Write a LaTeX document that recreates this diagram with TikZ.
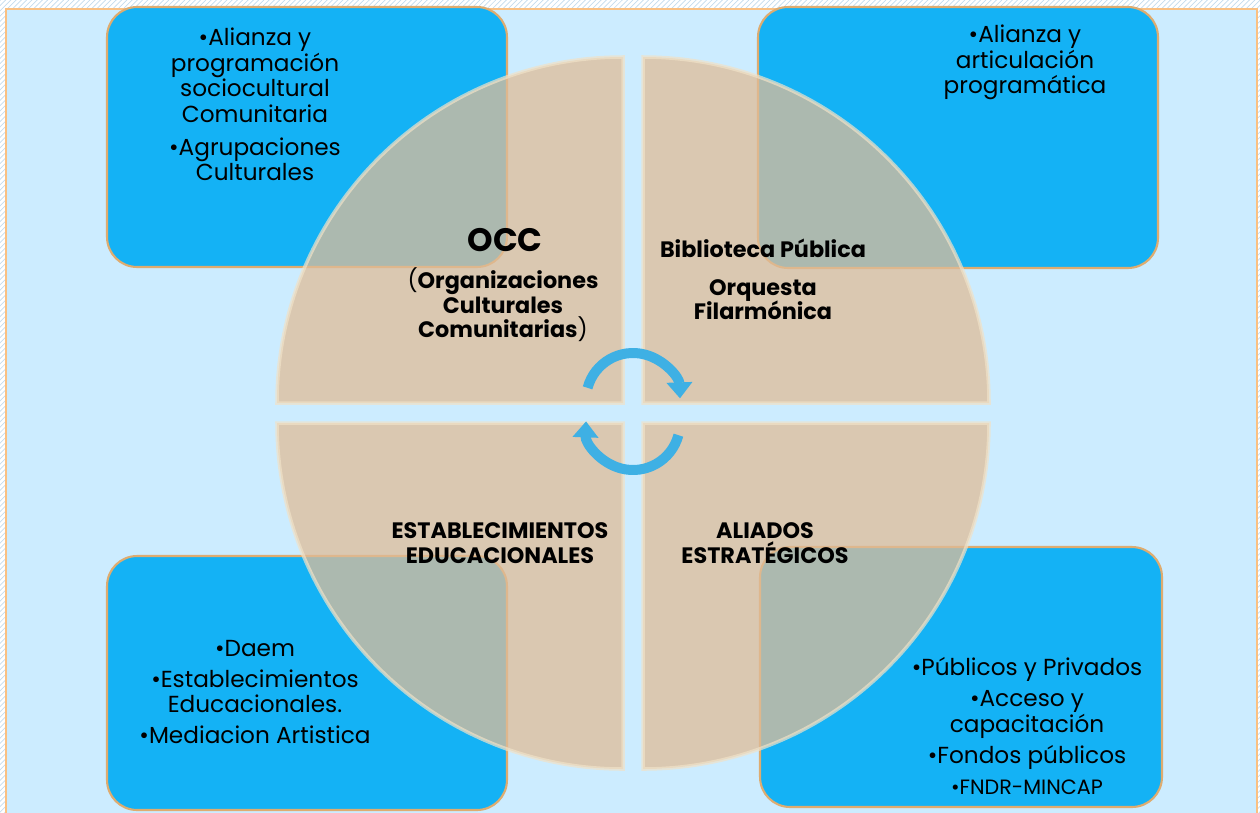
\documentclass[tikz,border=0pt]{standalone}
\usepackage{fontspec}
\setmainfont{Poppins}
\usepackage{xcolor}
\usetikzlibrary{patterns}
\usetikzlibrary{arrows.meta}
\definecolor{panelblue}{RGB}{204,236,255}
\definecolor{hatchblue}{RGB}{196,220,238}
\definecolor{frameorange}{RGB}{250,192,130}
\definecolor{boxblue}{RGB}{20,178,245}
\definecolor{boxedge}{RGB}{222,172,112}
\definecolor{quadtan}{RGB}{223,188,152}
\definecolor{quadedge}{RGB}{240,226,200}
\definecolor{cyclearrow}{RGB}{62,176,228}

\begin{document}
\begin{tikzpicture}[x=0.02cm,y=-0.02cm,
  infobox/.style={draw=boxedge, line width=1.2pt, fill=boxblue, rounded corners=0.6cm, inner sep=0pt},
  itemtext/.style={align=center, text=black, font=\fontsize{13.2}{14.5}\selectfont},
  headtext/.style={align=center, text=black, font=\bfseries\fontsize{12.7}{14}\selectfont},
  quarter/.style={fill=quadtan, fill opacity=0.75, draw=quadedge, draw opacity=0.7, line width=2pt},
  turn/.style={draw=cyclearrow, line width=0.2cm, -{Triangle[width=0.5cm,length=0.32cm]}}]
\useasboundingbox (0,0) rectangle (1260,812);
\clip (0,0) rectangle (1260,812);
\fill[white] (0,0) rectangle (1260,812);
\fill[pattern=north east lines, pattern color=hatchblue] (0,0) rectangle (1260,812);
\draw[frameorange, line width=1.5pt, fill=panelblue] (6,9) rectangle (1257,830);

\node[infobox, minimum width=8cm, minimum height=5.2cm] (occbox) at (307,137) {};
\node[infobox, minimum width=8cm, minimum height=5.22cm] (bibbox) at (958,137.5) {};
\node[infobox, minimum width=8cm, minimum height=5.08cm] (edubox) at (307,683) {};
\node[infobox, minimum width=8.04cm, minimum height=5.2cm] (aliabox) at (961,677) {};

\node[itemtext] (occitems) at (255,104.5) {\textbullet Alianza y\\programación\\sociocultural\\Comunitaria\\[4.3pt]\textbullet Agrupaciones\\Culturales};
\node[itemtext] (bibitems) at (1025,62.5) {\textbullet Alianza y\\articulación\\programática};
\node[itemtext] (eduitems) at (255,692) {\textbullet Daem\\[3.2pt]\textbullet Establecimientos\\Educacionales.\\[3.2pt]\textbullet Mediacion Artistica};
\node[itemtext] (aliaitems) at (1027,726) {\textbullet Públicos y Privados\\[3.2pt]\textbullet Acceso y\\capacitación\\[3.2pt]\textbullet Fondos públicos\\[3.2pt]{\fontsize{11.8}{12}\selectfont\textbullet FNDR-MINCAP}};

\path[quarter] (623,403) -- (277,403) arc[start angle=180, end angle=270, radius=346] -- cycle;
\path[quarter] (643,403) -- (643,57) arc[start angle=270, end angle=360, radius=346] -- cycle;
\path[quarter] (643,423) -- (989,423) arc[start angle=0, end angle=90, radius=346] -- cycle;
\path[quarter] (623,423) -- (623,769) arc[start angle=90, end angle=180, radius=346] -- cycle;

\node[headtext, font=\bfseries\fontsize{18.5}{20}\selectfont] (occ) at (505,240) {OCC};
\node[headtext] (occname) at (503,305) {{\mdseries(}Organizaciones\\Culturales\\Comunitarias{\mdseries)}};
\node[headtext] (bib) at (763,248) {Biblioteca Pública};
\node[headtext] (orq) at (763,299.5) {Orquesta\\Filarmónica};
\node[headtext] (edu) at (500,543) {ESTABLECIMIENTOS\\EDUCACIONALES};
\node[headtext] (alia) at (765,543) {ALIADOS\\ESTRATÉGICOS};

\coordinate (upperturn) at (633,400);
\coordinate (lowerturn) at (633,423);
\draw[turn] ([shift={(195:47)}]upperturn) arc[start angle=195, end angle=358, radius=47];
\draw[turn] ([shift={(15:47)}]lowerturn) arc[start angle=15, end angle=182, radius=47];
\end{tikzpicture}
\end{document}
